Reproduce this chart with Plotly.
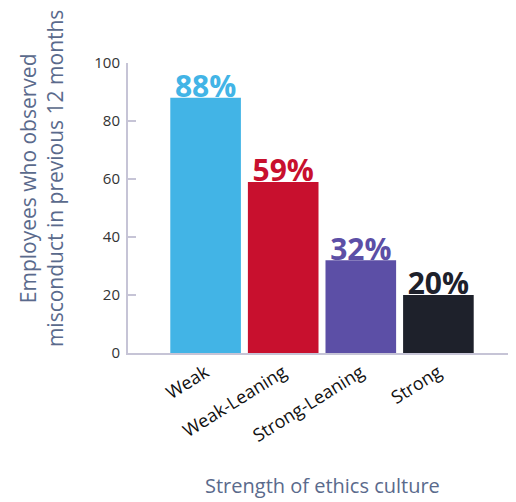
import plotly.graph_objects as go

categories = ["Weak", "Weak-Leaning", "Strong-Leaning", "Strong"]
values = [88, 59, 32, 20]
labels = ["88%", "59%", "32%", "20%"]
colors = ["#42b4e6", "#c8102e", "#5c4fa6", "#1e212b"]

y_ticks = [0, 20, 40, 60, 80, 100]
y_title = "Employees who observed<br>misconduct in previous 12 months"
x_title = "Strength of ethics culture"

FONT = "Open Sans"
AXIS_COLOR = "#c6c4d6"
TITLE_COLOR = "#5a6a8c"

fig = go.Figure()

# value labels on the base (hidden) axes so the bars (overlay axes) are drawn above them
fig.add_trace(go.Scatter(
    x=categories, y=values, mode="text", text=labels,
    textposition="middle center",
    textfont=dict(family=FONT, size=30, color=colors, weight="bold"),
    hoverinfo="skip", showlegend=False,
    xaxis="x", yaxis="y",
))

fig.add_trace(go.Bar(
    x=categories, y=values, marker=dict(color=colors, line=dict(width=0)),
    width=0.91, showlegend=False, xaxis="x2", yaxis="y2",
))

fig.update_layout(
    width=516, height=502,
    margin=dict(l=120, r=8, t=55, b=157),
    paper_bgcolor="white", plot_bgcolor="white",
    font=dict(family=FONT),
    xaxis=dict(visible=False, type="category", categoryorder="array",
               categoryarray=categories, range=[-1, 4]),
    yaxis=dict(visible=False, range=[-2.8, 97.2]),
    xaxis2=dict(overlaying="x", type="category", categoryorder="array",
                categoryarray=categories, range=[-1, 4],
                showline=True, linecolor=AXIS_COLOR, linewidth=2,
                ticks="", tickangle=-32, showgrid=False, zeroline=False,
                tickfont=dict(family=FONT, size=18, color="#111111"),
                anchor="y2"),
    yaxis2=dict(overlaying="y", range=[0, 100], tickvals=y_ticks,
                showline=True, linecolor=AXIS_COLOR, linewidth=2,
                ticks="inside", ticklen=8, tickwidth=2, tickcolor=AXIS_COLOR,
                showgrid=False, zeroline=False, ticklabelstandoff=3,
                tickfont=dict(family=FONT, size=15, color="#333333"),
                anchor="x2"),
    annotations=[
        dict(text=y_title, xref="paper", yref="paper", x=-0.224, y=0.6,
             xanchor="center", yanchor="middle", textangle=-90, showarrow=False,
             font=dict(family=FONT, size=21, color=TITLE_COLOR)),
        dict(text=x_title, xref="paper", yref="paper", x=0.5, y=-0.458,
             xanchor="center", yanchor="middle", showarrow=False,
             font=dict(family=FONT, size=20, color=TITLE_COLOR)),
    ],
)

fig.write_html("out.html")
